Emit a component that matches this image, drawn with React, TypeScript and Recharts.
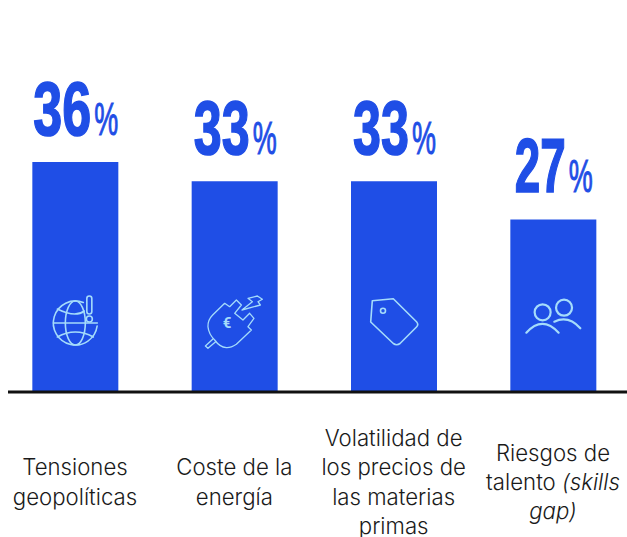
import { BarChart, Bar, XAxis, YAxis, LabelList } from 'recharts';

const categories = [
  'Tensiones geopolíticas',
  'Coste de la energía',
  'Volatilidad de los precios de las materias primas',
  'Riesgos de talento (skills gap)',
];
const values = [36, 33, 33, 27];
const tickLines = [
  ['Tensiones', 'geopolíticas'],
  ['Coste de la', 'energía'],
  ['Volatilidad de', 'los precios de', 'las materias', 'primas'],
  ['Riesgos de', 'talento (skills', 'gap)'],
];
const italicWords = ['(skills', 'gap)'];
const icons = ['globe', 'plug', 'tag', 'people'];

const BLUE = '#1f4ee6';
const ICON = '#a5dcfb';
const TEXT = '#1a1a1a';

const data = categories.map((name, i) => ({ name, value: values[i], icon: icons[i], lines: tickLines[i] }));

const CategoryTick = ({ x, y, index }: any) => {
  const lines = tickLines[index] || [];
  const lineHeight = 29.4;
  const firstY = y + 90 - ((lines.length - 1) * lineHeight) / 2;
  return (
    <text textAnchor="middle" fontFamily="Inter, sans-serif" fontWeight={300} fontSize={22.2} fill={TEXT}>
      {lines.map((line, i) => (
        <tspan key={i} x={x} y={firstY + i * lineHeight}>
          {line.split(' ').map((word, j) => (
            <tspan key={j} fontStyle={italicWords.includes(word) ? 'italic' : 'normal'}>
              {(j > 0 ? ' ' : '') + word}
            </tspan>
          ))}
        </tspan>
      ))}
    </text>
  );
};

const ValueLabel = ({ x, y, width, value }: any) => {
  const cx = x + width / 2;
  const baseline = y - 27;
  const digitWidth = value === 27 ? 51 : value === 33 ? 56 : 58;
  const left = cx - (digitWidth + 26) / 2;
  const font = "'Liberation Sans Narrow', 'Liberation Sans', sans-serif";
  return (
    <g fill={BLUE} fontFamily={font}>
      <text
        x={left}
        y={baseline}
        fontSize={76}
        fontWeight={700}
        stroke={BLUE}
        strokeWidth={1.6}
        textLength={digitWidth}
        lengthAdjust="spacingAndGlyphs"
      >
        {value}
      </text>
      <text
        x={left + digitWidth + 3}
        y={baseline}
        fontSize={46}
        fontWeight={400}
        stroke={BLUE}
        strokeWidth={1}
        textLength={24}
        lengthAdjust="spacingAndGlyphs"
      >
        %
      </text>
    </g>
  );
};

const IconMark = ({ x, y, width, height, index }: any) => {
  const cx = x + width / 2;
  const cy = y + height - 69;
  const kind = icons[index];
  return (
    <g transform={`translate(${cx},${cy})`} fill="none" stroke={ICON} strokeWidth={1.6} strokeLinejoin="round" strokeLinecap="round">
      {kind === 'globe' && (
        <>
          <path d="M8 -20.5A22 22 0 1 0 21.8 3" />
          <ellipse cx={0} cy={0} rx={10} ry={22} />
          <path d="M-22 0H22M-18 -14Q0 -5 9 -12M-18 14Q0 4 18 14" />
          <rect x={11.5} y={-27} width={5} height={18} rx={2.5} />
          <circle cx={14} cy={-4} r={3} />
        </>
      )}
      {kind === 'plug' && (
        <g strokeWidth={1.3}>
          <path d="M-26.7 3.7Q-27 -3 -22 -8L-10 -19.7L-5 -16.3L1.7 -23L6.7 -18L0 -9.7L8.3 -3L15 -9.7L19.3 -4.7L13.3 3.7L16.7 7L1.7 21.3Q-4 25 -8.3 24.7Q-15 24 -20 17Q-26 11 -26.7 3.7Z" />
          <path d="M-21.7 16L-29.3 23L-26.7 25.3L-19 18.7" />
          <path d="M7.3 -13L17.7 -21.3L13.3 -24.7L22.7 -27L27.7 -23.7L23.3 -21.3L25.7 -18Z" />
          <text x={-7.7} y={5} textAnchor="middle" fontFamily="Roboto, sans-serif" fontWeight={700} fontSize={15} fill={ICON} stroke="none">€</text>
        </g>
      )}
      {kind === 'tag' && (
        <>
          <path d="M-21.7 -22.3L-0.7 -24.3L22.5 -1.3Q25 1.5 22.5 4L6 20.5Q2.7 23 -0.7 20.5L-23.3 -1Z" />
          <circle cx={-11} cy={-12.3} r={2.5} />
        </>
      )}
      {kind === 'people' && (
        <g strokeWidth={2.2}>
          <circle cx={-10.7} cy={-10.7} r={8} />
          <circle cx={10.7} cy={-15.3} r={8} />
          <path d="M-27 9.7Q-11 -8 5.3 9.7" />
          <path d="M1 -1.3Q15 -8 27 5.3" />
        </g>
      )}
    </g>
  );
};

export default function App() {
  return (
    <div style={{ position: 'absolute', left: 0, top: 0, width: 627, height: 537, background: '#fff' }}>
      <BarChart
        width={627}
        height={537}
        data={data}
        margin={{ top: 136.4, right: 0, bottom: 0, left: 8 }}
      >
        <XAxis
          dataKey="name"
          scale="point"
          padding={{ left: 67, right: 74 }}
          height={145}
          interval={0}
          tickLine={false}
          axisLine={{ stroke: '#111', strokeWidth: 2.8 }}
          tick={<CategoryTick />}
        />
        <YAxis hide domain={[0, 40]} />
        <Bar dataKey="value" fill={BLUE} barSize={86} isAnimationActive={false}>
          <LabelList dataKey="value" content={<ValueLabel />} />
          <LabelList dataKey="icon" content={<IconMark />} />
        </Bar>
      </BarChart>
    </div>
  );
}
